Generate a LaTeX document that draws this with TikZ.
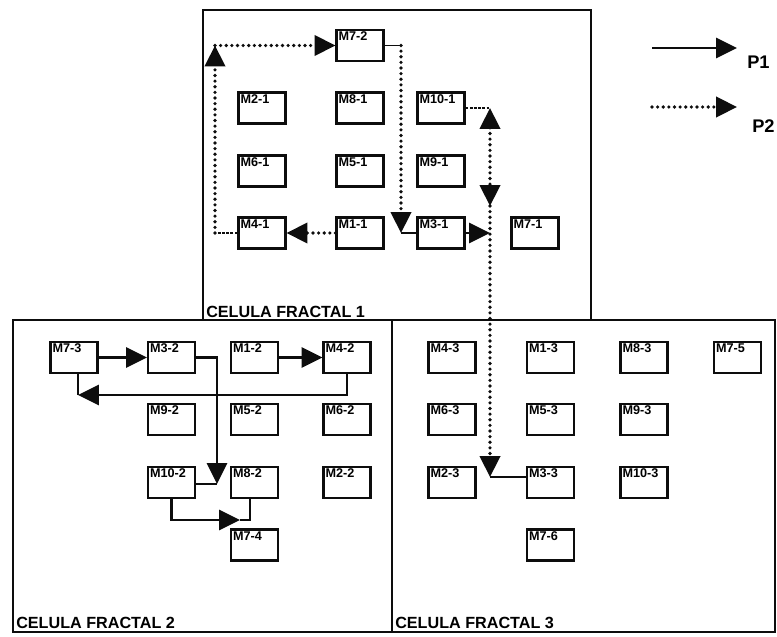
\documentclass[tikz,border=0pt]{standalone}
\usepackage{fontspec}
\setmainfont{Liberation Sans}
\usetikzlibrary{arrows.meta}
\definecolor{figink}{gray}{0.05}
\tikzset{
  cellframe/.style={draw=figink, line width=1.4pt},
  celltitle/.style={anchor=south west, inner sep=0pt,
    font=\fontsize{11.5}{13}\selectfont\bfseries},
  mtext/.style={anchor=north west, inner sep=2pt,
    font=\fontsize{9}{10}\selectfont\bfseries},
  mbox/.style={
    rectangle, draw=figink, line width=1.6pt, fill=white,
    minimum width=1.17cm, minimum height=0.77cm, inner sep=0pt,
    label={[mtext]north west:#1}
  },
  pone/.style={->, line width=1.7pt, draw=figink},
  ptwo/.style={->, line width=2.6pt, dash pattern=on 0pt off 4pt,
    line cap=round, draw=figink},
  plainlink/.style={line width=1.7pt, draw=figink},
  finelink/.style={line width=0.9pt, draw=figink},
  thinlink/.style={line width=0.8pt, dash pattern=on 2pt off 1pt, draw=figink},
  legendtext/.style={anchor=west, inner sep=0pt,
    font=\fontsize{13}{15}\selectfont\bfseries}
}

\begin{document}
\begin{tikzpicture}[x=0.025cm, y=-0.025cm,
    >={Triangle[length=0.52cm,width=0.5cm]}]
  \useasboundingbox[fill=white] (0,0) rectangle (777,637);

  % cells
  \draw[cellframe] (203,10) rectangle (591,320);
  \draw[cellframe] (13,320) rectangle (392,632);
  \draw[cellframe] (392,320) rectangle (775,632);
  \node[celltitle] (t1) at (206,318) {CELULA FRACTAL 1};
  \node[celltitle] (t2) at (16,629) {CELULA FRACTAL 2};
  \node[celltitle] (t3) at (395,629) {CELULA FRACTAL 3};

  % celula 1
  \node[mbox=M7-2] (m72) at (360,45.5) {};
  \node[mbox=M2-1] (m21) at (262,108) {};
  \node[mbox=M8-1] (m81) at (360,108) {};
  \node[mbox=M10-1] (m101) at (441,108) {};
  \node[mbox=M6-1] (m61) at (262,171) {};
  \node[mbox=M5-1] (m51) at (360,171) {};
  \node[mbox=M9-1] (m91) at (441,171) {};
  \node[mbox=M4-1] (m41) at (262,233) {};
  \node[mbox=M1-1] (m11) at (360,233) {};
  \node[mbox=M3-1] (m31) at (441,233) {};
  \node[mbox=M7-1] (m71) at (535,233) {};

  % celula 2
  \node[mbox=M7-3] (m73) at (74,357.5) {};
  \node[mbox=M3-2] (m32) at (171.5,357.5) {};
  \node[mbox=M1-2] (m12) at (254.5,357.5) {};
  \node[mbox=M4-2] (m42) at (347,357.5) {};
  \node[mbox=M9-2] (m92) at (171.5,419.5) {};
  \node[mbox=M5-2] (m52) at (254.5,419.5) {};
  \node[mbox=M6-2] (m62) at (347,419.5) {};
  \node[mbox=M10-2] (m102) at (171.5,482.5) {};
  \node[mbox=M8-2] (m82) at (254.5,482.5) {};
  \node[mbox=M2-2] (m22) at (347,482.5) {};
  \node[mbox=M7-4] (m74) at (254.5,545) {};

  % celula 3
  \node[mbox=M4-3] (m43) at (452,357.5) {};
  \node[mbox=M1-3] (m13) at (550.5,357.5) {};
  \node[mbox=M8-3] (m83) at (644,357.5) {};
  \node[mbox=M7-5] (m75) at (737.5,357.5) {};
  \node[mbox=M6-3] (m63) at (452,419.5) {};
  \node[mbox=M5-3] (m53) at (550.5,419.5) {};
  \node[mbox=M9-3] (m93) at (644,419.5) {};
  \node[mbox=M2-3] (m23) at (452,482.5) {};
  \node[mbox=M3-3] (m33) at (550.5,482.5) {};
  \node[mbox=M10-3] (m103) at (644,482.5) {};
  \node[mbox=M7-6] (m76) at (550.5,545) {};

  % route P2
  \coordinate (c1) at (215,233);
  \coordinate (c2) at (215,45.5);
  \coordinate (c3) at (401,45.5);
  \coordinate (c4) at (401,233);
  \coordinate (j0) at (490,233);
  \coordinate (j1) at (490,108);
  \coordinate (j2) at (490,206);
  \coordinate (j3) at (490,477);
  \draw[ptwo] (m11.west) -- (m41.east);
  \draw[thinlink] (m41.west) -- (c1);
  \draw[ptwo] (c1) -- (c2);
  \draw[ptwo] (c2) -- (m72.west);
  \draw[finelink] (m72.east) -- (c3);
  \draw[ptwo] (c3) -- (c4);
  \draw[plainlink] (c4) -- (m31.west);
  \draw[pone] (m31.east) -- (j0);
  \draw[thinlink] (m101.east) -- (j1);
  \draw[ptwo, <->] (j1) -- (j2);
  \draw[ptwo] (j2) -- (j3);
  \draw[finelink] (j3) -- (j3 -| m33.west);

  % route P1
  \coordinate (k1) at (217,484);
  \coordinate (k2) at (78,395);
  \coordinate (k3) at (240,520);
  \coordinate (k4) at (250,520);
  \draw[pone] (m73.east) -- (m32.west);
  \draw[pone] (m12.east) -- (m42.west);
  \draw[pone] (m32.east) -| (k1);
  \draw[plainlink] (k1 -| m102.east) -- (k1);
  \draw[pone] (m42.south) |- (k2);
  \draw[plainlink] (k2) -- (k2 |- m73.south);
  \draw[pone] (m102.south) |- (k3);
  \draw[plainlink] (k3) -- (k4) -- (k4 |- m82.south);

  % legend
  \coordinate (la) at (652,48);
  \coordinate (lb) at (737,48);
  \coordinate (lc) at (652,107);
  \coordinate (ld) at (737,107);
  \draw[pone] (la) -- (lb);
  \draw[ptwo] (lc) -- (ld);
  \node[legendtext] (p1) at (747,62) {P1};
  \node[legendtext] (p2) at (752,126) {P2};
\end{tikzpicture}
\end{document}
